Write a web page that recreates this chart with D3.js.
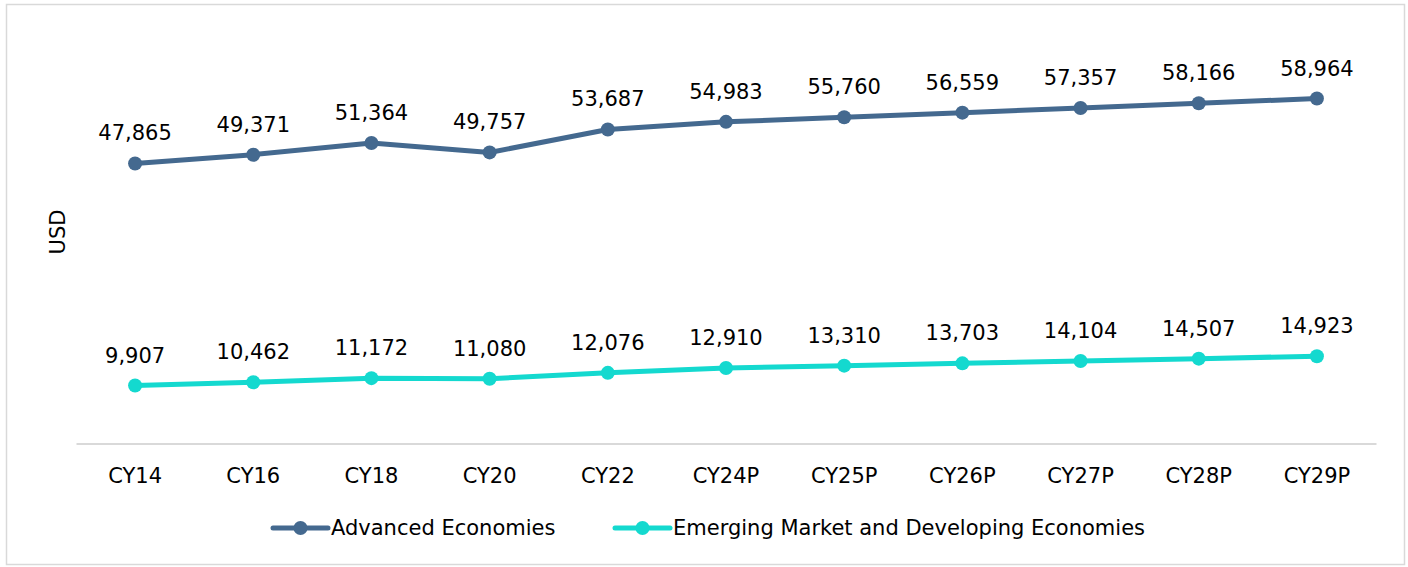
<!DOCTYPE html>
<html>
<head>
<meta charset="utf-8">
<script src="https://cdn.jsdelivr.net/npm/d3@7"></script>
<style>
  body { margin: 0; background: #fff; }
  svg { display: block; font-family: "DejaVu Sans", Verdana, sans-serif; }
</style>
</head>
<body>
<script>
const categories = ['CY14', 'CY16', 'CY18', 'CY20', 'CY22', 'CY24P', 'CY25P', 'CY26P', 'CY27P', 'CY28P', 'CY29P']
const advanced = [47865, 49371, 51364, 49757, 53687, 54983, 55760, 56559, 57357, 58166, 58964]
const emerging = [9907, 10462, 11172, 11080, 12076, 12910, 13310, 13703, 14104, 14507, 14923]
const seriesNames = ['Advanced Economies', 'Emerging Market and Developing Economies']
const colors = ['#44698f', '#14d9cf']

const width = 1408
const height = 567
const fontSize = 21

const svg = d3.select('body').append('svg')
    .attr('width', width)
    .attr('height', height)

// outer frame
svg.append('rect')
    .attr('x', 6.5).attr('y', 4.5)
    .attr('width', 1398).attr('height', 560)
    .attr('fill', '#fff')
    .attr('stroke', '#d9d9d9')
    .attr('stroke-width', 1.5)

const x = d3.scaleBand()
    .domain(categories)
    .range([76, 1376])

const y = d3.scaleLinear()
    .domain([0, 70000])
    .range([443.5, 34])

// x axis
const xAxis = svg.append('g')
    .attr('transform', 'translate(0,443.5)')
    .call(d3.axisBottom(x).tickSize(0).tickPadding(25))
xAxis.select('.domain').attr('stroke', '#d9d9d9').attr('stroke-width', 2)
xAxis.selectAll('text')
    .attr('font-size', fontSize)
    .attr('font-family', '"DejaVu Sans", Verdana, sans-serif')
    .attr('fill', '#000')

// y title
svg.append('text')
    .attr('transform', 'translate(65,232) rotate(-90)')
    .attr('text-anchor', 'middle')
    .attr('font-size', fontSize)
    .text('USD')

const cx = d => x(d) + x.bandwidth() / 2
const line = d3.line()
    .x((d, i) => cx(categories[i]))
    .y(d => y(d))

const series = [advanced, emerging]
series.forEach((vals, s) => {
    const g = svg.append('g')
    g.append('path')
        .datum(vals)
        .attr('d', line)
        .attr('fill', 'none')
        .attr('stroke', colors[s])
        .attr('stroke-width', 5)
        .attr('stroke-linejoin', 'round')
    g.selectAll('circle')
        .data(vals)
        .enter()
        .append('circle')
        .attr('cx', (d, i) => cx(categories[i]))
        .attr('cy', d => y(d))
        .attr('r', 7)
        .attr('fill', colors[s])
    g.selectAll('text')
        .data(vals)
        .enter()
        .append('text')
        .attr('x', (d, i) => cx(categories[i]))
        .attr('y', d => y(d) - 23)
        .attr('text-anchor', 'middle')
        .attr('font-size', fontSize)
        .attr('fill', '#000')
        .text(d => d3.format(',')(d))
})

// legend
const legendX = [273, 615]
const legend = svg.append('g')
seriesNames.forEach((name, s) => {
    const lg = legend.append('g').attr('transform', `translate(${legendX[s]},528)`)
    lg.append('line')
        .attr('x1', 0).attr('x2', 55)
        .attr('stroke', colors[s])
        .attr('stroke-width', 5)
        .attr('stroke-linecap', 'round')
    lg.append('circle')
        .attr('cx', 27.5)
        .attr('r', 7)
        .attr('fill', colors[s])
    lg.append('text')
        .attr('x', 58)
        .attr('dy', '0.35em')
        .attr('font-size', fontSize)
        .text(name)
})
</script>
</body>
</html>
